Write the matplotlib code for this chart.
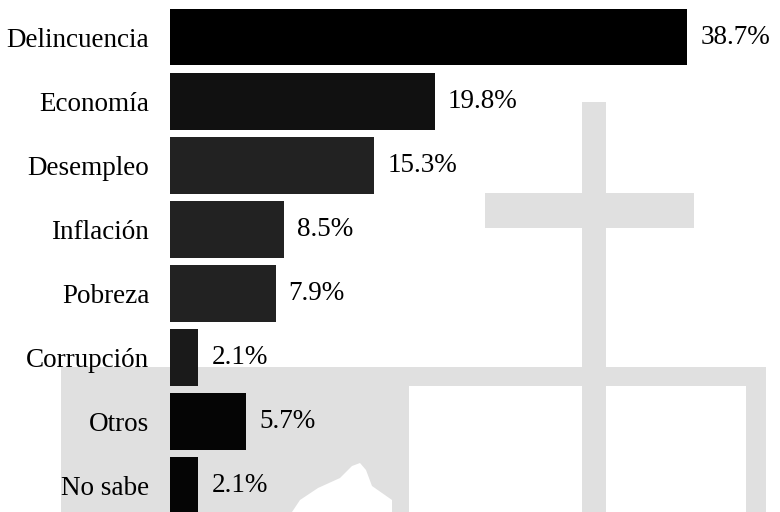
#!/usr/bin/env python3
# -*- coding: utf-8 -*-

import matplotlib
matplotlib.use('Agg')
import matplotlib.pyplot as plt
from matplotlib.patches import Rectangle, Polygon

categories = ['Delincuencia', 'Economía', 'Desempleo', 'Inflación',
              'Pobreza', 'Corrupción', 'Otros', 'No sabe']
values = [38.7, 19.8, 15.3, 8.5, 7.9, 2.1, 5.7, 2.1]
colors = ['#000000', '#111111', '#222222', '#222222',
          '#222222', '#1a1a1a', '#050505', '#050505']

W, H = 780, 512
plt.rcParams['font.family'] = ['Liberation Serif', 'DejaVu Serif']

fig = plt.figure(figsize=(W/100, H/100), dpi=100)


def wm_rect(x0, y0, x1, y1, color='#e0e0e0'):
    # watermark block, pixel coords with y measured from top
    fig.add_artist(Rectangle((x0/W, 1 - y1/H), (x1-x0)/W, (y1-y0)/H,
                             transform=fig.transFigure, color=color,
                             lw=0, zorder=-2))


# background watermark (gray cross and frame)
wm_rect(61, 367, 766, 512)
wm_rect(409, 386, 746, 512, color='white')
wm_rect(582, 102, 606, 512)
wm_rect(485, 193, 694, 228)
blob = [(292, 512), (300, 500), (318, 488), (340, 478), (352, 466),
        (360, 463), (366, 470), (372, 486), (392, 500), (392, 512)]
fig.add_artist(Polygon([(x/W, 1 - y/H) for x, y in blob], closed=True,
                       transform=fig.transFigure, color='white', lw=0,
                       zorder=-1))

ax = fig.add_axes([170/W, 0, (W-170)/W, 1])
ax.patch.set_alpha(0)

pos = list(range(len(categories)))
ax.barh(pos, values, height=0.89, color=colors, zorder=2)

for p, v in zip(pos, values):
    ax.annotate('%.1f%%' % v, (v, p), xytext=(9.5, 0),
                textcoords='offset points', va='center', ha='left',
                fontsize=19.5)

ax.set_yticks(pos)
ax.set_yticklabels(categories, fontsize=19.5)
ax.tick_params(axis='y', length=0, pad=15)
ax.set_xticks([])
ax.set_xlim(0, (W-170)/13.36)
ax.set_ylim(7.42, -0.578)
ax.set_frame_on(False)

plt.savefig('out.png', dpi=100)
